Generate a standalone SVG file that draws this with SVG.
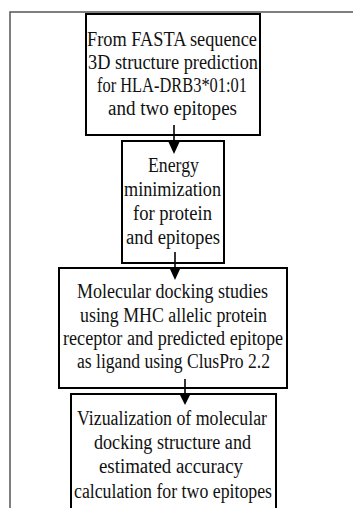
<svg xmlns="http://www.w3.org/2000/svg" width="353" height="508" viewBox="0 0 353 508">
<style>
.box{fill:#fff;stroke:#000;stroke-width:2}
.frame{fill:none;stroke:#555;stroke-width:1.5}
.t{font-family:"Liberation Serif","Times New Roman",serif;font-size:20px;fill:#111;text-anchor:middle}
.ln{stroke:#000;stroke-width:1.6}
.hd{fill:#000}
</style>
<rect width="353" height="508" fill="#fff"/>
<path class="frame" d="M10,508 V12 H353"/>
<g id="n1">
<rect class="box" x="86" y="14" width="174" height="121"/>
<text class="t" x="172" y="46" textLength="170" lengthAdjust="spacingAndGlyphs">From FASTA sequence</text>
<text class="t" x="173" y="69" textLength="170" lengthAdjust="spacingAndGlyphs">3D structure prediction</text>
<text class="t" x="172" y="92" textLength="150" lengthAdjust="spacingAndGlyphs">for HLA-DRB3*01:01</text>
<text class="t" x="172.5" y="115" textLength="129" lengthAdjust="spacingAndGlyphs">and two epitopes</text>
</g>
<g id="n2">
<rect class="box" x="122" y="141" width="102" height="122"/>
<text class="t" x="173.5" y="172" textLength="51" lengthAdjust="spacingAndGlyphs">Energy</text>
<text class="t" x="172.5" y="196" textLength="97" lengthAdjust="spacingAndGlyphs">minimization</text>
<text class="t" x="172.5" y="220" textLength="79" lengthAdjust="spacingAndGlyphs">for protein</text>
<text class="t" x="173" y="244" textLength="94" lengthAdjust="spacingAndGlyphs">and epitopes</text>
</g>
<g id="n3">
<rect class="box" x="59" y="268" width="228" height="120"/>
<text class="t" x="172.5" y="298" textLength="191" lengthAdjust="spacingAndGlyphs">Molecular docking studies</text>
<text class="t" x="173.5" y="322" textLength="187" lengthAdjust="spacingAndGlyphs">using MHC allelic protein</text>
<text class="t" x="173" y="345" textLength="220" lengthAdjust="spacingAndGlyphs">receptor and predicted epitope</text>
<text class="t" x="173.5" y="368" textLength="193" lengthAdjust="spacingAndGlyphs">as ligand using ClusPro 2.2</text>
</g>
<g id="n4">
<path class="box" d="M71,510 V394 H276 V510"/>
<text class="t" x="172" y="425" textLength="190" lengthAdjust="spacingAndGlyphs">Vizualization of molecular</text>
<text class="t" x="172.5" y="449" textLength="157" lengthAdjust="spacingAndGlyphs">docking structure and</text>
<text class="t" x="171" y="473" textLength="144" lengthAdjust="spacingAndGlyphs">estimated accuracy</text>
<text class="t" x="173" y="498" textLength="198" lengthAdjust="spacingAndGlyphs">calculation for two epitopes</text>
</g>
<g id="connectors">
<line class="ln" x1="174" y1="125" x2="174" y2="144"/>
<polygon class="hd" points="168.5,142 179.5,142 174,154"/>
<line class="ln" x1="175" y1="252" x2="175" y2="270"/>
<polygon class="hd" points="169.5,268 180.5,268 175,280"/>
<line class="ln" x1="185" y1="379" x2="185" y2="396"/>
<polygon class="hd" points="179.5,394 190.5,394 185,405"/>
</g>
</svg>
